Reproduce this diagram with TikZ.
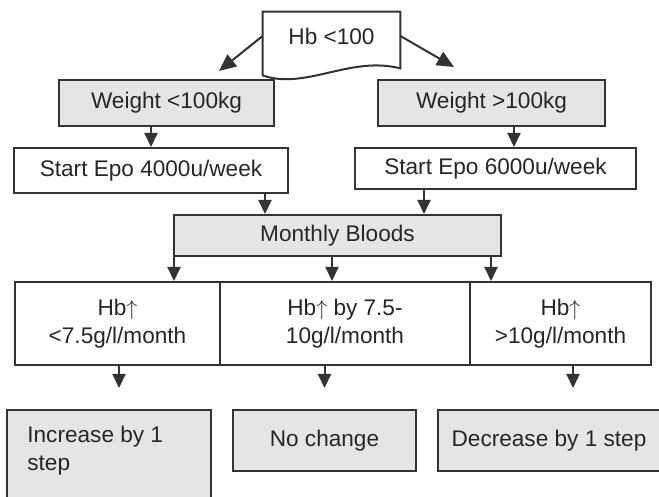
\documentclass[tikz,border=0pt]{standalone}
\usepackage{fontspec}
\setmainfont{Liberation Sans}
\usetikzlibrary{arrows.meta,calc}

\newcommand{\hbup}{Hb$\uparrow$}

\begin{document}
\begin{tikzpicture}[x=0.5pt,y=-0.5pt,
    every node/.style={font=\fontsize{11.3}{14}\selectfont,text=black!85,inner sep=0pt},
    box/.style={draw=black!80,line width=1pt,fill=white},
    shaded/.style={box,fill=black!10},
    arr/.style={draw=black!80,line width=1pt,-{Triangle[length=7pt,width=6.5pt]}},
    bigarr/.style={arr,-{Triangle[length=8.5pt,width=7.5pt]}}]

    \useasboundingbox (0,0) rectangle (659,497);
    \clip (0,0) rectangle (659,497);

    % Start: document shape
    \node[minimum width=68.5pt,minimum height=24pt] (hb) at (331.5,36) {};
    \draw[box] (hb.north west) -- (hb.north east) -- ($(hb.south east)+(0,8)$)
      .. controls ($(hb.south east)+(-50,-5)$) and ($(hb.south east)+(-95,30)$) .. ($(hb.south west)+(0,15)$) -- cycle;
    \node at (hb) {Hb <100};

    % Weight and dose
    \node[shaded,minimum width=107.5pt,minimum height=23pt] (wlo) at (166.5,103) {Weight <100kg};
    \node[shaded,minimum width=113.5pt,minimum height=23pt] (whi) at (491.5,103) {Weight >100kg};
    \node[box,minimum width=137pt,minimum height=22.5pt] (slo) at (151,170.5) {Start Epo 4000u/week};
    \node[box,minimum width=140.5pt,minimum height=20.5pt] (shi) at (495.5,168.5) {Start Epo 6000u/week};

    % Monthly check
    \node[shaded,minimum width=163.5pt,minimum height=20.5pt] (mb) at (337.5,235.5) {Monthly Bloods};

    % Response row
    \node[box,align=center,minimum width=102.5pt,minimum height=41.5pt] (r1) at (117.5,323.5) {\hbup\\<7.5g/l/month};
    \node[box,align=center,minimum width=125pt,minimum height=41.5pt] (r2) at (345,323.5) {\hbup{} by 7.5-\\10g/l/month};
    \node[box,align=center,minimum width=90.5pt,minimum height=41.5pt] (r3) at (560.5,323.5) {\hbup\\>10g/l/month};

    % Actions
    \node[shaded,minimum width=102pt,minimum height=47.5pt] (inc) at (109,457.5) {};
    \node[anchor=north west,align=left] (inctxt) at (27,426) {Increase by 1\\step};
    \node[shaded,minimum width=91.5pt,minimum height=30.5pt] (noc) at (324.5,440.5) {No change};
    \node[shaded,minimum width=111pt,minimum height=30.5pt] (dec) at (549,440.5) {Decrease by 1 step};

    % Arrows
    \coordinate (tl) at (219,71);
    \coordinate (tr) at (454,67);
    \draw[bigarr] (hb.west) -- (tl);
    \draw[bigarr] (hb.east) -- (tr);

    \draw[arr] (slo.north |- wlo.south) -- (slo.north);
    \coordinate (w2) at ($(whi.south)+(22.5,0)$);
    \draw[arr] (w2) -- (w2 |- shi.north);
    \coordinate (s1) at ($(slo.south)+(114,0)$);
    \draw[arr] (s1) -- (s1 |- mb.north);
    \coordinate (s2) at ($(shi.south)+(-71.5,0)$);
    \draw[arr] (s2) -- (s2 |- mb.north);

    \foreach \dx/\r in {-163.5/r1,-5.5/r2,153.5/r3} {
      \coordinate (m) at ($(mb.south)+(\dx,0)$);
      \draw[arr] (m) -- (m |- \r.north);
    }

    \draw[arr] ($(r1.south)+(1.5,0)$) -- ++(0,22);
    \draw[arr] (noc.north |- r2.south) -- ++(0,22);
    \draw[arr] ($(r3.south)+(12.5,0)$) -- ++(0,22);

  \end{tikzpicture}
\end{document}
